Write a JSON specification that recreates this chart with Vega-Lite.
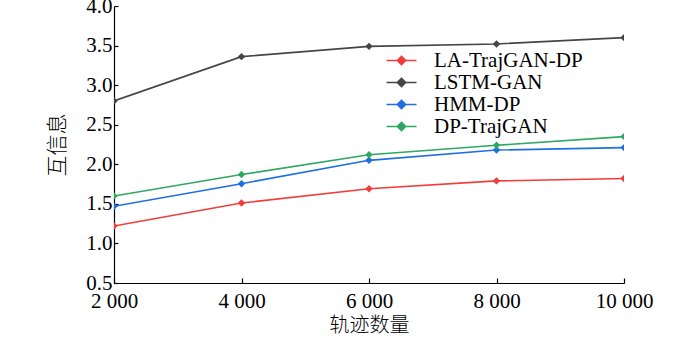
{
  "$schema": "https://vega.github.io/schema/vega-lite/v6.json",
  "width": 510,
  "height": 277,
  "autosize": {"type": "none"},
  "padding": {"left": 114, "top": 6, "right": 76, "bottom": 55},
  "config": {
    "view": {"stroke": null},
    "font": "Liberation Serif",
    "axis": {"grid": false, "domainColor": "#000", "tickColor": "#000", "labelColor": "#000", "titleColor": "#000", "labelFont": "Liberation Serif", "labelFontSize": 21, "titleFont": "Noto Sans CJK SC", "titleFontSize": 21, "titleFontWeight": 300, "domainWidth": 1.2, "tickWidth": 1.2, "labelFlush": false, "labelOverlap": false}
  },
  "data": {
    "values": [
      {"n": 2000, "method": "LA-TrajGAN-DP", "v": 1.22},
      {"n": 4000, "method": "LA-TrajGAN-DP", "v": 1.51},
      {"n": 6000, "method": "LA-TrajGAN-DP", "v": 1.69},
      {"n": 8000, "method": "LA-TrajGAN-DP", "v": 1.79},
      {"n": 10000, "method": "LA-TrajGAN-DP", "v": 1.82},
      {"n": 2000, "method": "LSTM-GAN", "v": 2.80},
      {"n": 4000, "method": "LSTM-GAN", "v": 3.36},
      {"n": 6000, "method": "LSTM-GAN", "v": 3.49},
      {"n": 8000, "method": "LSTM-GAN", "v": 3.52},
      {"n": 10000, "method": "LSTM-GAN", "v": 3.60},
      {"n": 2000, "method": "HMM-DP", "v": 1.47},
      {"n": 4000, "method": "HMM-DP", "v": 1.755},
      {"n": 6000, "method": "HMM-DP", "v": 2.05},
      {"n": 8000, "method": "HMM-DP", "v": 2.18},
      {"n": 10000, "method": "HMM-DP", "v": 2.21},
      {"n": 2000, "method": "DP-TrajGAN", "v": 1.60},
      {"n": 4000, "method": "DP-TrajGAN", "v": 1.87},
      {"n": 6000, "method": "DP-TrajGAN", "v": 2.12},
      {"n": 8000, "method": "DP-TrajGAN", "v": 2.24},
      {"n": 10000, "method": "DP-TrajGAN", "v": 2.35}
    ]
  },
  "mark": {"type": "line", "strokeWidth": 1.6, "clip": true, "point": {"shape": "diamond", "size": 55, "filled": true, "clip": true}},
  "encoding": {
    "x": {
      "field": "n", "type": "quantitative",
      "scale": {"domain": [2000, 10000], "nice": false},
      "axis": {"values": [2000, 4000, 6000, 8000, 10000], "tickSize": -5, "labelPadding": 12, "labelExpr": "replace(format(datum.value, ','), ',', ' ')", "title": "轨迹数量", "titleFontSize": 20, "titlePadding": 4}
    },
    "y": {
      "field": "v", "type": "quantitative",
      "scale": {"domain": [0.5, 4.0], "nice": false},
      "axis": {"values": [0.5, 1.0, 1.5, 2.0, 2.5, 3.0, 3.5, 4.0], "format": ".1f", "tickSize": -4, "labelPadding": 6, "title": "互信息", "titlePadding": 18}
    },
    "color": {
      "field": "method", "type": "nominal",
      "scale": {"domain": ["LA-TrajGAN-DP", "LSTM-GAN", "HMM-DP", "DP-TrajGAN"], "range": ["#f23c3c", "#454545", "#1f6fe0", "#2fa862"]},
      "legend": {
        "orient": "none", "legendX": 277, "legendY": 44, "title": null,
        "symbolType": "M-2,0H2M0,-0.55L0.55,0L0,0.55L-0.55,0Z",
        "symbolSize": 225, "symbolStrokeWidth": 1.6,
        "labelFont": "Liberation Serif", "labelFontSize": 21, "labelColor": "#000", "labelOffset": 22, "rowPadding": 0, "padding": 0, "labelLimit": 300
      }
    }
  }
}
